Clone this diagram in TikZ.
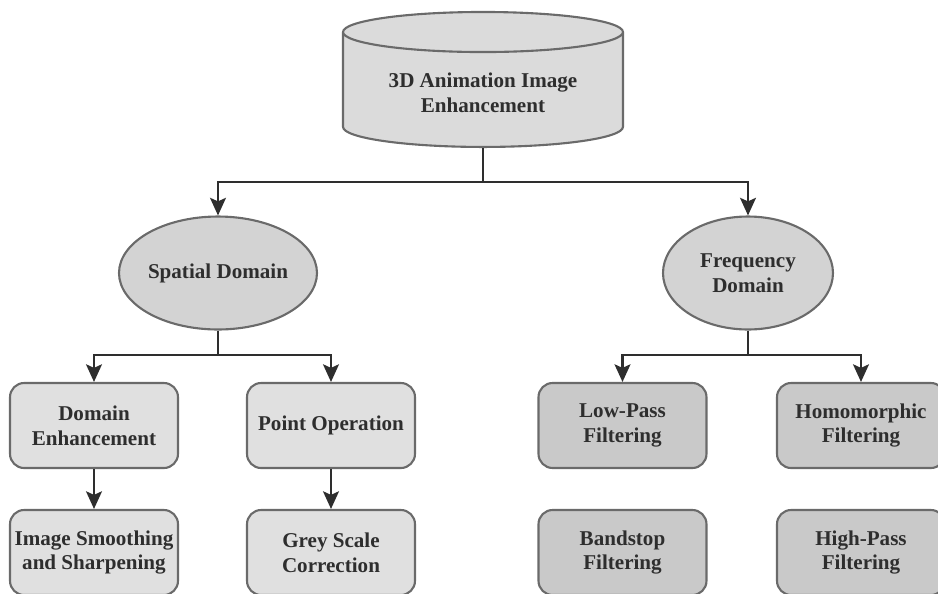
\documentclass[tikz,border=0pt]{standalone}
\usepackage{fontspec}
\setmainfont{Liberation Serif}
\usetikzlibrary{arrows.meta}
\usetikzlibrary{shapes.geometric}
\definecolor{cylfill}{HTML}{DBDBDB}
\definecolor{domfill}{HTML}{D3D3D3}
\definecolor{lightfill}{HTML}{E0E0E0}
\definecolor{darkfill}{HTML}{C9C9C9}
\definecolor{rimgray}{HTML}{6A6A6A}
\definecolor{linegray}{HTML}{2E2E2E}

\begin{document}
\begin{tikzpicture}[x=0.02cm, y=-0.02cm,
   label_font/.style={font=\fontsize{12}{14}\selectfont\bfseries, text=linegray, align=center},
   box_style/.style={rectangle, rounded corners=8pt, draw=rimgray, line width=1.2pt,
      minimum width=3.36cm, minimum height=1.7cm, inner sep=2pt, label_font},
   dom_style/.style={ellipse, draw=rimgray, line width=1.2pt, fill=domfill,
      minimum width=3.4cm, minimum height=2.26cm, inner sep=0pt, label_font},
   edge_style/.style={draw=linegray, line width=1.5pt},
   arrow_style/.style={edge_style, -{Stealth[length=10pt, width=9pt, inset=2pt]}}]
	\useasboundingbox (0,0) rectangle (938,593);
	\node [cylinder, shape border rotate=90, aspect=0.2, draw=rimgray, line width=1.2pt,
	   fill=cylfill, minimum width=5.6cm, minimum height=2.7cm, label_font,
	   anchor=south] (top) at (483,148)
	   {3D Animation Image\\Enhancement};
	\node [dom_style] (spatial) at (218,273) {Spatial Domain};
	\node [dom_style] (freq) at (748,273) {Frequency\\Domain};
	\node [box_style, fill=lightfill] (domenh) at (94,425.5) {Domain\\Enhancement};
	\node [box_style, fill=lightfill] (pointop) at (331,425.5) {Point Operation};
	\node [box_style, fill=lightfill] (smooth) at (94,552.5) {Image Smoothing\\and Sharpening};
	\node [box_style, fill=lightfill] (greyscale) at (331,552.5) {Grey Scale\\Correction};
	\node [box_style, fill=darkfill] (lowpass) at (622.5,425.5) {Low-Pass\\Filtering};
	\node [box_style, fill=darkfill] (homo) at (861,425.5) {Homomorphic\\Filtering};
	\node [box_style, fill=darkfill] (bandstop) at (622.5,552.5) {Bandstop\\Filtering};
	\node [box_style, fill=darkfill] (highpass) at (861,552.5) {High-Pass\\Filtering};

	\coordinate (split0) at (483,182);
	\coordinate (split1) at (218,355);
	\coordinate (split2) at (748,355);

	\draw [edge_style] (top.south) -- (split0);
	\draw [edge_style] (spatial.south) -- (split1);
	\draw [edge_style] (freq.south) -- (split2);

	\foreach \from/\to in {
		split0/spatial,
		split0/freq,
		split1/domenh,
		split1/pointop,
		split2/lowpass,
		split2/homo}
	  \draw [arrow_style] (\from) -| (\to.north);

	\foreach \from/\to in {
		domenh/smooth,
		pointop/greyscale}
	  \draw [arrow_style] (\from.south) -- (\to.north);
\end{tikzpicture}
\end{document}
